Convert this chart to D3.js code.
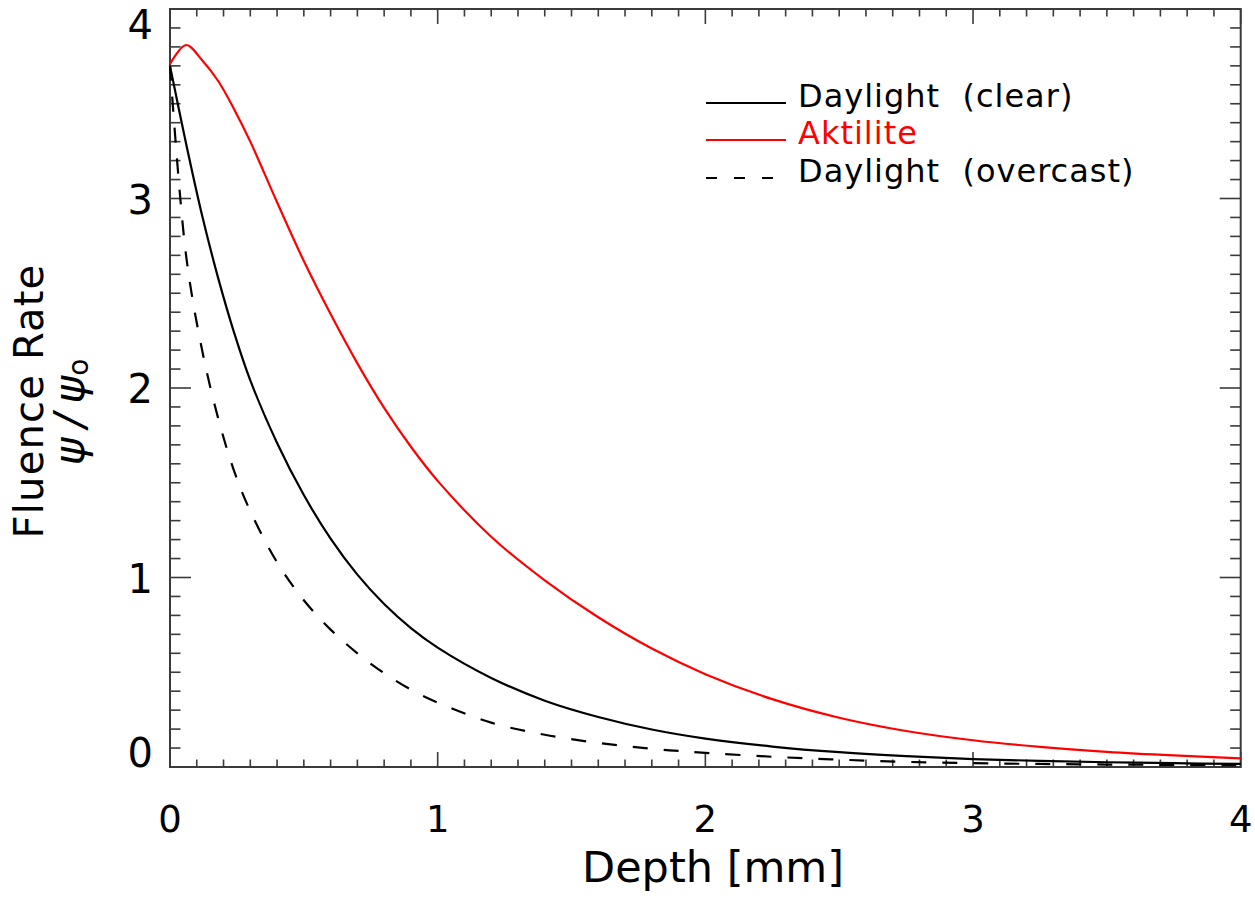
<!DOCTYPE html>
<html>
<head>
<meta charset="utf-8">
<script src="https://cdn.jsdelivr.net/npm/d3@7"></script>
<style>
  html, body { margin: 0; padding: 0; background: #fff; }
  svg { display: block; }
  text { font-family: "DejaVu Sans", sans-serif; }
</style>
</head>
<body>
<svg id="chart" width="1255" height="900"></svg>
<script>
// Depth below the surface (mm)
const depth = [0, 0.06, 0.12, 0.18, 0.24, 0.30, 0.40, 0.50, 0.60, 0.70, 0.80, 0.90, 1.00,
               1.20, 1.40, 1.60, 1.80, 2.00, 2.25, 2.50, 2.75, 3.00, 3.25, 3.50, 3.75, 4.00];

// Relative fluence rate psi/psi0 for each light source
const daylightClear = [3.70, 3.29, 2.91, 2.58, 2.29, 2.04, 1.71, 1.435, 1.205, 1.015, 0.86, 0.733, 0.63,
                       0.47, 0.35, 0.264, 0.198, 0.150, 0.108, 0.078, 0.057, 0.042, 0.032, 0.025, 0.020, 0.016];
const aktilite = [3.71, 3.81, 3.73, 3.62, 3.47, 3.30, 2.98, 2.67, 2.39, 2.13, 1.895, 1.69, 1.51,
                  1.215, 0.985, 0.79, 0.625, 0.49, 0.358, 0.26, 0.19, 0.141, 0.106, 0.080, 0.061, 0.046];
const daylightOvercast = [3.70, 2.70, 2.20, 1.84, 1.56, 1.35, 1.08, 0.88, 0.725, 0.60, 0.495, 0.408, 0.34,
                          0.234, 0.17, 0.127, 0.096, 0.075, 0.054, 0.039, 0.027, 0.020, 0.016, 0.013, 0.011, 0.010];

// Axis tick values
const xTickValues = [0, 1, 2, 3, 4];
const yTickValues = [0, 1, 2, 3, 4];
const xTickLabels = ["0", "1", "2", "3", "4"];
const yTickLabels = ["0", "1", "2", "3", "4"];

const seriesNames = ["Daylight (clear)", "Aktilite", "Daylight (overcast)"];
const seriesValues = [daylightClear, aktilite, daylightOvercast];
const seriesColors = ["#000000", "#ff0000", "#000000"];
const seriesDash = [null, null, "15,16"];

const svg = d3.select("#chart");
svg.append("rect").attr("width", 1255).attr("height", 900).attr("fill", "#fff");

const plotLeft = 170, plotRight = 1240.7, plotTop = 9, plotBottom = 767;
const x = d3.scaleLinear().domain([0, 4]).range([plotLeft, plotRight]);
const y = d3.scaleLinear().domain([0, 4]).range([plotBottom, plotTop]);

const axisColor = "#3a3a3a";

// Minor (0.1) and major (1) ticks on all four sides, pointing inward
const xMinor = d3.range(0, 41).map(i => i / 10);
const yMinor = d3.range(0, 41).map(i => i / 10);
const ticks = svg.append("g").attr("stroke", axisColor).attr("stroke-width", 1.6);
xMinor.forEach(v => {
  const major = Math.abs(v - Math.round(v)) < 1e-9;
  const len = major ? 15 : 7.5;
  ticks.append("line").attr("x1", x(v)).attr("x2", x(v)).attr("y1", plotBottom).attr("y2", plotBottom - len);
  ticks.append("line").attr("x1", x(v)).attr("x2", x(v)).attr("y1", plotTop).attr("y2", plotTop + len);
});
yMinor.forEach(v => {
  const major = Math.abs(v - Math.round(v)) < 1e-9;
  const len = major ? 21 : 10.5;
  ticks.append("line").attr("x1", plotLeft).attr("x2", plotLeft + len).attr("y1", y(v)).attr("y2", y(v));
  ticks.append("line").attr("x1", plotRight).attr("x2", plotRight - len).attr("y1", y(v)).attr("y2", y(v));
});

// Frame
svg.append("rect")
  .attr("x", plotLeft).attr("y", plotTop)
  .attr("width", plotRight - plotLeft).attr("height", plotBottom - plotTop)
  .attr("fill", "none").attr("stroke", axisColor).attr("stroke-width", 2);

// Tick labels
svg.append("g").selectAll("text").data(xTickValues).join("text")
  .attr("x", d => x(d))
  .attr("y", 832)
  .attr("text-anchor", "middle")
  .attr("font-size", 37)
  .attr("fill", "#000")
  .text((d, i) => xTickLabels[i]);

svg.append("g").selectAll("text").data(yTickValues).join("text")
  .attr("x", 153)
  .attr("y", d => {
    // end labels are kept inside the frame height
    if (d === 4) return y(d) + 30;
    if (d === 0) return y(d);
    return y(d) + 15;
  })
  .attr("text-anchor", "end")
  .attr("font-size", 40)
  .attr("fill", "#000")
  .text((d, i) => yTickLabels[i]);

// Axis titles
svg.append("text")
  .attr("x", 713).attr("y", 882)
  .attr("text-anchor", "middle")
  .attr("font-size", 43)
  .attr("fill", "#000")
  .text("Depth [mm]");

svg.append("text")
  .attr("transform", "translate(43,401) rotate(-90)")
  .attr("text-anchor", "middle")
  .attr("font-size", 40)
  .attr("letter-spacing", 1.2)
  .attr("fill", "#000")
  .text("Fluence Rate");

const psi = svg.append("text")
  .attr("transform", "translate(84,412) rotate(-90)")
  .attr("text-anchor", "middle")
  .attr("font-size", 42)
  .attr("fill", "#000")
  .attr("font-style", "italic");
psi.append("tspan").attr("letter-spacing", 10).text("ψ/");
psi.append("tspan").text("ψ");
psi.append("tspan").attr("font-size", 28).attr("dy", 4).attr("font-style", "normal").text("o");

// Curves
const line = d3.line()
  .x(d => x(d[0]))
  .y(d => y(d[1]))
  .curve(d3.curveCatmullRom.alpha(0.5));

const plot = svg.append("g");
seriesValues.forEach((vals, i) => {
  const pts = depth.map((d, j) => [d, vals[j]]);
  plot.append("path")
    .attr("d", line(pts))
    .attr("fill", "none")
    .attr("stroke", seriesColors[i])
    .attr("stroke-width", 2.2)
    .attr("stroke-dasharray", seriesDash[i]);
});

// Legend
const legendRows = [107, 144, 182];
const legend = svg.append("g");
seriesNames.forEach((name, i) => {
  const yy = legendRows[i];
  legend.append("line")
    .attr("x1", 706).attr("x2", 786)
    .attr("y1", yy - 4).attr("y2", yy - 4)
    .attr("stroke", seriesColors[i])
    .attr("stroke-width", 2.2)
    .attr("stroke-dasharray", seriesDash[i] ? "11,17" : null);
  legend.append("text")
    .attr("x", 798).attr("y", yy)
    .attr("font-size", 32)
    .attr("letter-spacing", 1)
    .attr("fill", seriesColors[i])
    .style("white-space", "pre")
    .text(name.replace(" (", "  ("));
});
</script>
</body>
</html>
